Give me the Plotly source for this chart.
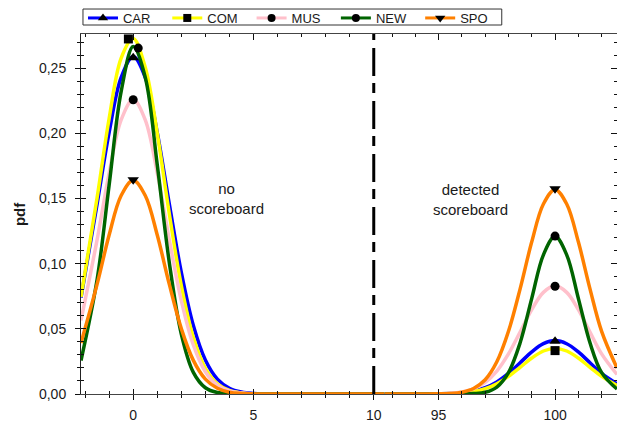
import plotly.graph_objects as go

# ---------------- data ----------------
series = ["CAR", "COM", "MUS", "NEW", "SPO"]
colors = {"CAR": "#0000ff", "COM": "#ffff00", "MUS": "#ffc0cb", "NEW": "#006400", "SPO": "#ff8000"}
symbols = {"CAR": "triangle-up", "COM": "square", "MUS": "circle", "NEW": "circle", "SPO": "triangle-down"}

# left part: "no scoreboard"
x_left = [-2.17, -1.5, -1, -0.5, 0, 0.5, 1, 1.5, 2, 2.5, 3, 3.5, 4, 4.5, 5, 5.5, 6, 10.44]
CAR_L = [0.074, 0.1459, 0.2007, 0.2430, 0.259, 0.2430, 0.2007, 0.1459, 0.0934, 0.0526, 0.0261, 0.0114, 0.0044, 0.0015, 0.0004, 0.0001, 0, 0]
COM_L = [0.0745, 0.1507, 0.2115, 0.2578, 0.2728, 0.2507, 0.2000, 0.1385, 0.0833, 0.0435, 0.0197, 0.0078, 0.0027, 0.0008, 0.0002, 0, 0, 0]
MUS_L = [0.0564, 0.1185, 0.1696, 0.2104, 0.226, 0.2104, 0.1696, 0.1185, 0.0717, 0.0376, 0.0171, 0.0067, 0.0023, 0.0007, 0.0002, 0, 0, 0]
NEW_L = [0.0257, 0.0879, 0.1604, 0.2322, 0.2667, 0.2431, 0.1759, 0.1010, 0.0460, 0.0166, 0.0048, 0.0011, 0.0002, 0, 0, 0, 0, 0]
SPO_L = [0.0392, 0.0843, 0.1220, 0.1523, 0.164, 0.1523, 0.1220, 0.0843, 0.0502, 0.0258, 0.0114, 0.0044, 0.0014, 0.0004, 0.0001, 0, 0, 0]

# right part: "detected scoreboard"
x_right = [92.67, 94.5, 95, 95.5, 96, 96.5, 97, 97.5, 98, 98.5, 99, 99.5, 100, 100.5, 101, 101.5, 102, 102.66]
CAR_R = [0, 0, 0.0001, 0.0003, 0.0009, 0.0022, 0.0048, 0.0093, 0.0158, 0.0240, 0.0323, 0.0386, 0.041, 0.0386, 0.0323, 0.0240, 0.0158, 0.0078]
COM_R = [0, 0, 0.0001, 0.0003, 0.0008, 0.0019, 0.0041, 0.0079, 0.0135, 0.0205, 0.0276, 0.0330, 0.035, 0.0330, 0.0276, 0.0205, 0.0135, 0.0066]
MUS_R = [0, 0, 0.0002, 0.0005, 0.0016, 0.0040, 0.0089, 0.0176, 0.0308, 0.0475, 0.0648, 0.0780, 0.083, 0.0780, 0.0648, 0.0475, 0.0308, 0.0150]
NEW_R = [0, 0, 0, 0, 0, 0.0003, 0.0013, 0.0053, 0.0164, 0.0393, 0.0734, 0.1068, 0.121, 0.1068, 0.0734, 0.0393, 0.0164, 0.0038]
SPO_R = [0, 0, 0.0001, 0.0004, 0.0014, 0.0042, 0.0109, 0.0247, 0.0481, 0.0807, 0.1168, 0.1458, 0.157, 0.1458, 0.1168, 0.0807, 0.0481, 0.0200]

left_vals = {"CAR": CAR_L, "COM": COM_L, "MUS": MUS_L, "NEW": NEW_L, "SPO": SPO_L}
right_vals = {"CAR": CAR_R, "COM": COM_R, "MUS": MUS_R, "NEW": NEW_R, "SPO": SPO_R}

# peak markers
peak_left_x = {"CAR": 0, "COM": -0.2, "MUS": 0, "NEW": 0.21, "SPO": 0}
peak_left_y = {"CAR": 0.258, "COM": 0.2725, "MUS": 0.2258, "NEW": 0.2655, "SPO": 0.1645}
peak_right_x = {"CAR": 100, "COM": 100, "MUS": 100, "NEW": 100, "SPO": 100}
peak_right_y = {"CAR": 0.0405, "COM": 0.0333, "MUS": 0.0827, "NEW": 0.1212, "SPO": 0.1575}
marker_sizes = {"CAR": 10, "COM": 9, "MUS": 9, "NEW": 9, "SPO": 10}

left_ticks = [0, 5, 10]
right_ticks = [95, 100]
y_ticks = [0, 0.05, 0.10, 0.15, 0.20, 0.25]
x_left_range = [-2.17, 10.444]
x_right_range = [92.674, 102.66]
y_range = [0, 0.2763]
split = 0.5661

FONT = "Liberation Sans, Arial, sans-serif"
TXT = "#1a1a1a"

fig = go.Figure()

for s in series:
    fig.add_trace(go.Scatter(x=x_left, y=left_vals[s], mode="lines", line=dict(color=colors[s], width=3.5, shape="spline"),
                             xaxis="x", yaxis="y", showlegend=False, hoverinfo="skip"))
    fig.add_trace(go.Scatter(x=x_right, y=right_vals[s], mode="lines", line=dict(color=colors[s], width=3.5, shape="spline"),
                             xaxis="x2", yaxis="y", showlegend=False, hoverinfo="skip"))
for s in series:
    fig.add_trace(go.Scatter(x=[peak_left_x[s]], y=[peak_left_y[s]], mode="markers",
                             marker=dict(symbol=symbols[s], size=marker_sizes[s], color="black"),
                             xaxis="x", yaxis="y", showlegend=False, hoverinfo="skip", cliponaxis=False))
    fig.add_trace(go.Scatter(x=[peak_right_x[s]], y=[peak_right_y[s]], mode="markers",
                             marker=dict(symbol=symbols[s], size=marker_sizes[s], color="black"),
                             xaxis="x2", yaxis="y", showlegend=False, hoverinfo="skip", cliponaxis=False))
# legend entries
for s in series:
    fig.add_trace(go.Scatter(x=[None], y=[None], mode="lines+markers", name=s,
                             line=dict(color=colors[s], width=3),
                             marker=dict(symbol=symbols[s], size=marker_sizes[s] - 1, color="black"),
                             xaxis="x", yaxis="y"))

# empty traces to activate overlay axes
for xa, ya in [("x3", "y"), ("x5", "y"), ("x4", "y"), ("x6", "y"), ("x", "y2"), ("x2", "y3")]:
    fig.add_trace(go.Scatter(x=[], y=[], xaxis=xa, yaxis=ya, showlegend=False, hoverinfo="skip"))

LINEC = "#444444"
TICKC = "#111111"
tickfont = dict(family=FONT, size=14, color=TXT)

def base_x(rng, dom, vals, **kw):
    d = dict(range=rng, domain=dom, tickmode="array", tickvals=vals, showgrid=False, zeroline=False,
             tickcolor=TICKC, tickwidth=1, fixedrange=True)
    d.update(kw)
    return d

layout_axes = dict(
    xaxis=base_x(x_left_range, [0, split], left_ticks, anchor="y", side="bottom", showline=True, linecolor=LINEC,
                 linewidth=1, ticks="outside", ticklen=5, tickfont=tickfont, ticklabelstandoff=3,
                 minor=dict(dtick=1, tick0=0, ticks="outside", ticklen=3, tickcolor=TICKC)),
    xaxis3=base_x(x_left_range, [0, split], left_ticks, anchor="y", overlaying="x", side="bottom", showline=False,
                  ticks="inside", ticklen=5, showticklabels=False,
                  minor=dict(dtick=1, tick0=0, ticks="inside", ticklen=3, tickcolor=TICKC)),
    xaxis5=base_x(x_left_range, [0, split], left_ticks, anchor="y", overlaying="x", side="top", showline=True,
                  linecolor=LINEC, ticks="inside", ticklen=6, showticklabels=False,
                  minor=dict(dtick=1, tick0=0, ticks="inside", ticklen=3, tickcolor=TICKC)),
    xaxis2=base_x(x_right_range, [split, 1], right_ticks, anchor="y", side="bottom", showline=True, linecolor=LINEC,
                  linewidth=1, ticks="outside", ticklen=5, tickfont=tickfont, ticklabelstandoff=3,
                  minor=dict(dtick=1, tick0=0, ticks="outside", ticklen=3, tickcolor=TICKC)),
    xaxis4=base_x(x_right_range, [split, 1], right_ticks, anchor="y", overlaying="x2", side="bottom", showline=False,
                  ticks="inside", ticklen=5, showticklabels=False,
                  minor=dict(dtick=1, tick0=0, ticks="inside", ticklen=3, tickcolor=TICKC)),
    xaxis6=base_x(x_right_range, [split, 1], right_ticks, anchor="y", overlaying="x2", side="top", showline=True,
                  linecolor=LINEC, ticks="inside", ticklen=6, showticklabels=False,
                  minor=dict(dtick=1, tick0=0, ticks="inside", ticklen=3, tickcolor=TICKC)),
    yaxis=dict(range=y_range, domain=[0, 1], anchor="x", side="left", tickmode="array", tickvals=y_ticks,
               tickformat=".2f", showgrid=False, zeroline=False, showline=True, linecolor="#222222", linewidth=1,
               ticks="outside", ticklen=5, tickcolor=TICKC, tickfont=tickfont, ticklabelstandoff=6,
               minor=dict(dtick=0.01, tick0=0, ticks="outside", ticklen=3, tickcolor=TICKC), fixedrange=True),
    yaxis2=dict(range=y_range, anchor="x", overlaying="y", side="left", tickmode="array", tickvals=y_ticks,
                showgrid=False, zeroline=False, showline=False, ticks="inside", ticklen=5, tickcolor=TICKC,
                showticklabels=False, minor=dict(dtick=0.01, tick0=0, ticks="inside", ticklen=3, tickcolor=TICKC),
                fixedrange=True),
    yaxis3=dict(range=y_range, anchor="x2", overlaying="y", side="right", tickmode="array", tickvals=y_ticks,
                showgrid=False, zeroline=False, showline=False, ticks="inside", ticklen=6, tickcolor=TICKC,
                showticklabels=False, minor=dict(dtick=0.01, tick0=0, ticks="inside", ticklen=3, tickcolor=TICKC),
                fixedrange=True),
)

fig.update_layout(
    width=618, height=429,
    margin=dict(l=81, r=1, t=34, b=35, pad=0),
    paper_bgcolor="white", plot_bgcolor="white",
    separators=",.",
    font=dict(family=FONT, size=14, color=TXT),
    showlegend=True,
    legend=dict(orientation="h", x=0.0037, y=1.0861, xanchor="left", yanchor="top",
                borderwidth=0, bgcolor="rgba(0,0,0,0)",
                font=dict(family=FONT, size=13, color=TXT), itemclick=False, itemdoubleclick=False,
                tracegroupgap=0, itemwidth=30, entrywidth=39.3, entrywidthmode="pixels"),
    **layout_axes,
)

# legend frame
fig.add_shape(type="rect", xref="paper", yref="paper", x0=0.0037, x1=0.785, y0=1.025, y1=1.0694,
              line=dict(color="#333333", width=1), fillcolor="rgba(0,0,0,0)", layer="below")

# vertical separator line at x = 10
fig.add_shape(type="line", xref="x", yref="y domain", x0=10, x1=10, y0=0, y1=1,
              line=dict(color="black", width=3, dash="28px,8px,10px,7px"), layer="above")

fig.add_annotation(text="pdf", xref="paper", yref="paper", x=-0.1155, y=0.5, textangle=-90, showarrow=False,
                   font=dict(family=FONT, size=15, color=TXT, weight="bold"), xanchor="center", yanchor="middle")
fig.add_annotation(text="no<br>scoreboard", xref="x", yref="y", x=3.89, y=0.150, showarrow=False,
                   font=dict(family=FONT, size=15, color=TXT))
fig.add_annotation(text="detected<br>scoreboard", xref="x2", yref="y", x=96.35, y=0.1493, showarrow=False,
                   font=dict(family=FONT, size=15, color=TXT))

fig.write_html("out.html")
